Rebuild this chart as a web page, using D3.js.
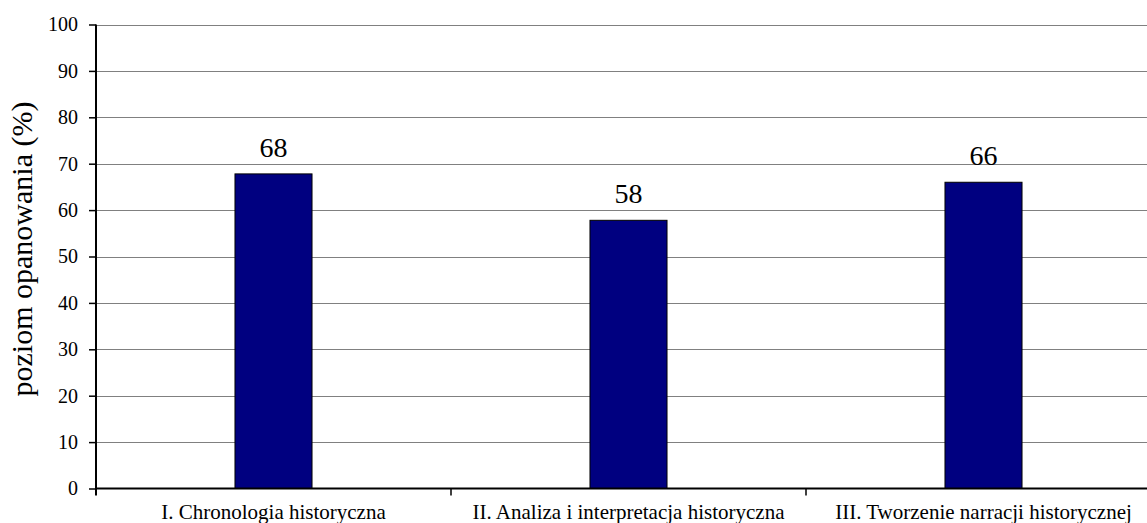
<!DOCTYPE html>
<html>
<head>
<meta charset="utf-8">
<script src="https://cdn.jsdelivr.net/npm/d3@7/dist/d3.min.js"></script>
<style>
  html, body { margin: 0; padding: 0; background: #fff; }
  svg { display: block; }
</style>
</head>
<body>
<svg id="chart" width="1147" height="523"></svg>
<script>
const categories = ["I. Chronologia historyczna", "II. Analiza i interpretacja historyczna", "III. Tworzenie narracji historycznej"];
const values = [67.8, 57.8, 66.0];
const labels = ["68", "58", "66"];
const yTicks = [0, 10, 20, 30, 40, 50, 60, 70, 80, 90, 100];
const yTitle = "poziom opanowania (%)";

const FONT = "'Liberation Serif', Tinos, 'Times New Roman', 'DejaVu Serif', serif";
const svg = d3.select("#chart").style("font-family", FONT);
const mLeft = 96, mRight = 1161, mTop = 24.5, mBottom = 488.5;

const x = d3.scaleBand().domain(categories).range([mLeft, mRight]).paddingInner(0).paddingOuter(0);
const y = d3.scaleLinear().domain([0, 100]).range([mBottom, mTop]);
const barW = x.bandwidth() * 0.217;

// gridlines
svg.append("g").selectAll("line").data(yTicks.filter(d => d > 0)).join("line")
  .attr("x1", mLeft).attr("x2", 1147)
  .attr("y1", d => Math.round(y(d)) + 0.5).attr("y2", d => Math.round(y(d)) + 0.5)
  .attr("stroke", "#808080").attr("stroke-width", 1);

// bars
svg.append("g").selectAll("rect").data(values).join("rect")
  .attr("x", (d, i) => x(categories[i]) + (x.bandwidth() - barW) / 2)
  .attr("y", d => y(d))
  .attr("width", barW)
  .attr("height", d => y(0) - y(d))
  .attr("fill", "#000080")
  .attr("stroke", "#000").attr("stroke-width", 1);

// value labels
svg.append("g").selectAll("text").data(values).join("text")
  .attr("x", (d, i) => x(categories[i]) + x.bandwidth() / 2)
  .attr("y", d => y(d) - 17)
  .attr("text-anchor", "middle")
  .style("font-family", FONT)
  .style("font-size", "28px")
  .text((d, i) => labels[i]);

// y axis
const yAxis = d3.axisLeft(y).tickValues(yTicks).tickSize(7).tickPadding(11).tickFormat(d3.format("d"));
const gy = svg.append("g").attr("transform", `translate(${mLeft},0)`).call(yAxis);
gy.attr("font-family", null).attr("font-size", null);
gy.select(".domain").remove();
gy.selectAll(".tick line").attr("stroke", "#000").attr("stroke-width", 1.5);
gy.selectAll(".tick text").style("font-size", "20px").style("font-family", FONT).attr("fill", "#000");
svg.append("line").attr("x1", mLeft).attr("x2", mLeft).attr("y1", mTop).attr("y2", mBottom + 7)
  .attr("stroke", "#000").attr("stroke-width", 2);

// x axis
svg.append("line").attr("x1", mLeft).attr("x2", 1147).attr("y1", mBottom).attr("y2", mBottom)
  .attr("stroke", "#000").attr("stroke-width", 2);
svg.append("g").selectAll("line").data(categories.slice(1)).join("line")
  .attr("x1", d => x(d)).attr("x2", d => x(d))
  .attr("y1", mBottom).attr("y2", mBottom + 7)
  .attr("stroke", "#000").attr("stroke-width", 1.5);
svg.append("g").selectAll("text").data(categories).join("text")
  .attr("x", d => x(d) + x.bandwidth() / 2)
  .attr("y", 519)
  .attr("text-anchor", "middle")
  .style("font-family", FONT)
  .style("font-size", "21px")
  .text(d => d);

// y title
svg.append("text")
  .attr("transform", `translate(32,249) rotate(-90)`)
  .attr("text-anchor", "middle")
  .style("font-family", FONT)
  .style("font-size", "30px")
  .text(yTitle);
</script>
</body>
</html>
